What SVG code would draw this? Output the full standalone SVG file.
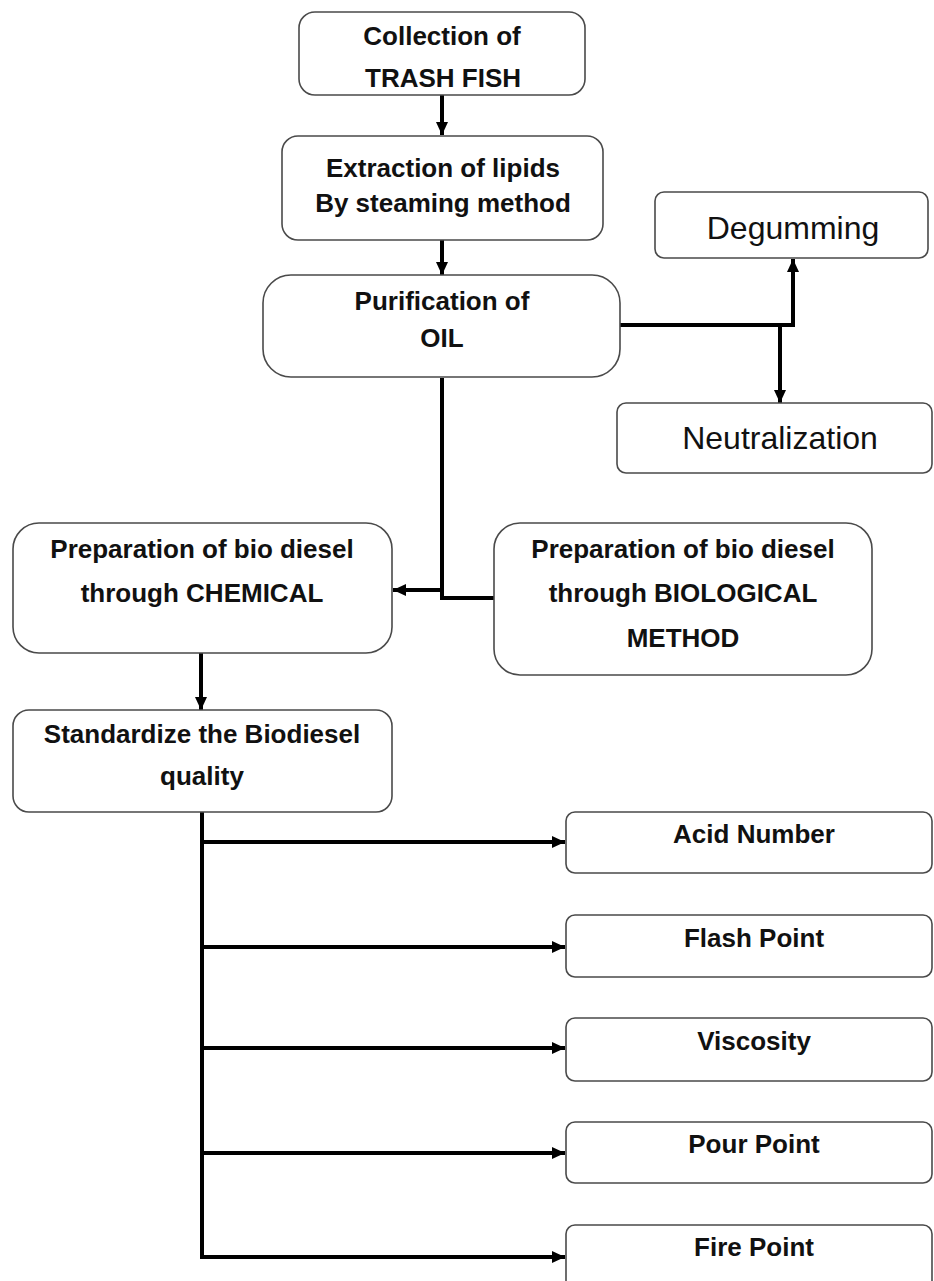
<svg xmlns="http://www.w3.org/2000/svg" width="934" height="1281" viewBox="0 0 934 1281">
<style>
.box{fill:#fff;stroke:#4a4a4a;stroke-width:1.6}
.t{font-family:"Liberation Sans",Arial,sans-serif;font-weight:bold;font-size:26px;fill:#111;text-anchor:middle}
.tr{font-family:"Liberation Sans",Arial,sans-serif;font-weight:normal;font-size:32px;fill:#111;text-anchor:middle}
.c{fill:none;stroke:#000;stroke-width:4;stroke-linejoin:miter}
</style>
<defs>
<marker id="ah" markerUnits="userSpaceOnUse" markerWidth="14" markerHeight="14" refX="13" refY="7" orient="auto">
<path d="M0,1 L13,7 L0,13 z" fill="#000"/>
</marker>
</defs>
<rect width="934" height="1281" fill="#fff"/>
<g id="connectors">
<line class="c" x1="442" y1="95" x2="442" y2="135" marker-end="url(#ah)"/>
<line class="c" x1="442" y1="240" x2="442" y2="275" marker-end="url(#ah)"/>
<polyline class="c" points="620,325 793,325 793,259" stroke-width="5" marker-end="url(#ah)"/>
<line class="c" x1="780" y1="325" x2="780" y2="403" marker-end="url(#ah)"/>
<polyline class="c" points="442,378 442,598 494,598"/>
<line class="c" x1="442" y1="590" x2="393" y2="590" marker-end="url(#ah)"/>
<line class="c" x1="201" y1="653" x2="201" y2="710" marker-end="url(#ah)"/>
<polyline class="c" points="202,812 202,1257 565,1257" marker-end="url(#ah)"/>
<line class="c" x1="202" y1="842" x2="565" y2="842" marker-end="url(#ah)"/>
<line class="c" x1="202" y1="947" x2="565" y2="947" marker-end="url(#ah)"/>
<line class="c" x1="202" y1="1048" x2="565" y2="1048" marker-end="url(#ah)"/>
<line class="c" x1="202" y1="1153" x2="565" y2="1153" marker-end="url(#ah)"/>
</g>
<g id="n1"><rect class="box" x="299" y="12" width="286" height="83" rx="16"/>
<text class="t" x="442" y="45">Collection of</text><text class="t" x="443" y="87">TRASH FISH</text></g>
<g id="n2"><rect class="box" x="282" y="136" width="321" height="104" rx="16"/>
<text class="t" x="443" y="177">Extraction of lipids</text><text class="t" x="443" y="212">By steaming method</text></g>
<g id="n3"><rect class="box" x="263" y="275" width="357" height="102" rx="28"/>
<text class="t" x="442" y="310">Purification of</text><text class="t" x="442" y="347">OIL</text></g>
<g id="n4"><rect class="box" x="655" y="192" width="273" height="66" rx="9"/>
<text class="tr" x="793" y="239">Degumming</text></g>
<g id="n5"><rect class="box" x="617" y="403" width="315" height="70" rx="9"/>
<text class="tr" x="780" y="449" font-size="33">Neutralization</text></g>
<g id="n6"><rect class="box" x="13" y="523" width="379" height="130" rx="26"/>
<text class="t" x="202" y="558">Preparation of bio diesel</text><text class="t" x="202" y="602">through CHEMICAL</text></g>
<g id="n7"><rect class="box" x="494" y="523" width="378" height="152" rx="26"/>
<text class="t" x="683" y="558">Preparation of bio diesel</text><text class="t" x="683" y="602">through BIOLOGICAL</text><text class="t" x="683" y="647">METHOD</text></g>
<g id="n8"><rect class="box" x="13" y="710" width="379" height="102" rx="16"/>
<text class="t" x="202" y="743">Standardize the Biodiesel</text><text class="t" x="202" y="785">quality</text></g>
<g id="n9"><rect class="box" x="566" y="812" width="366" height="61" rx="9"/>
<text class="t" x="754" y="843">Acid Number</text></g>
<g id="n10"><rect class="box" x="566" y="915" width="366" height="62" rx="9"/>
<text class="t" x="754" y="947">Flash Point</text></g>
<g id="n11"><rect class="box" x="566" y="1018" width="366" height="63" rx="9"/>
<text class="t" x="754" y="1050">Viscosity</text></g>
<g id="n12"><rect class="box" x="566" y="1122" width="366" height="61" rx="9"/>
<text class="t" x="754" y="1153">Pour Point</text></g>
<g id="n13"><rect class="box" x="566" y="1225" width="366" height="80" rx="9"/>
<text class="t" x="754" y="1256">Fire Point</text></g>
</svg>
